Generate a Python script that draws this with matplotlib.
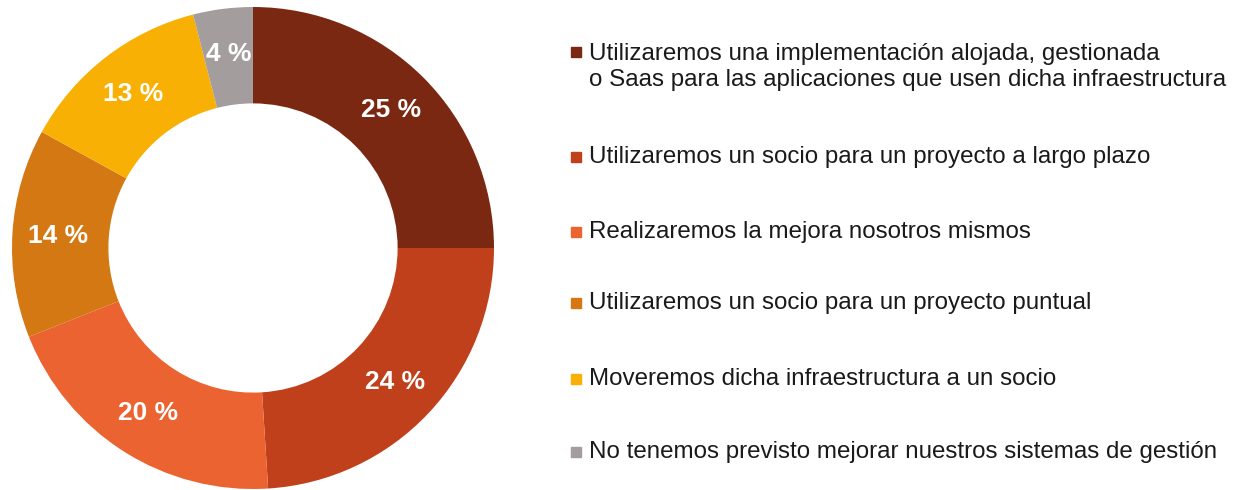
import matplotlib.pyplot as plt
from matplotlib.patches import Rectangle

plt.rcParams['font.family'] = ['Liberation Sans', 'DejaVu Sans']

# data
labels = [
    "Utilizaremos una implementación alojada, gestionada\no Saas para las aplicaciones que usen dicha infraestructura",
    "Utilizaremos un socio para un proyecto a largo plazo",
    "Realizaremos la mejora nosotros mismos",
    "Utilizaremos un socio para un proyecto puntual",
    "Moveremos dicha infraestructura a un socio",
    "No tenemos previsto mejorar nuestros sistemas de gestión",
]
values = [25, 24, 20, 14, 13, 4]
colors = ["#7A2811", "#BF401B", "#EB6330", "#D37812", "#F8B004", "#A39E9D"]
legend_y = [52, 157, 232, 303, 379, 452]  # pixel rows of first text line

fig = plt.figure(figsize=(12.44, 4.9), dpi=100)
ax = fig.add_axes([12 / 1244, 1 / 490, 482 / 1244, 482 / 490])
ax.pie(values, colors=colors, startangle=90, counterclock=False,
       radius=1, wedgeprops=dict(width=0.4, edgecolor='none'),
       autopct=lambda p: f"{p:.0f} %", pctdistance=0.81,
       textprops=dict(color='white', fontsize=19, fontweight='bold'))
ax.set_xlim(-1, 1)
ax.set_ylim(-1, 1)
ax.set_aspect('equal')

# legend drawn by hand
for lab, col, y in zip(labels, colors, legend_y):
    yf = 1 - y / 490
    fig.patches.append(Rectangle((571 / 1244, yf - 5 / 490), 10 / 1244, 10 / 490,
                                 transform=fig.transFigure, color=col))
    nlines = lab.count('\n') + 1
    ytxt = yf - (nlines - 1) * 15 / 490
    fig.text(589 / 1244, ytxt, lab, fontsize=17.4, color='#1a1a1a',
             va='center', linespacing=1.2, transform=fig.transFigure)

fig.savefig("out.png", dpi=100)
